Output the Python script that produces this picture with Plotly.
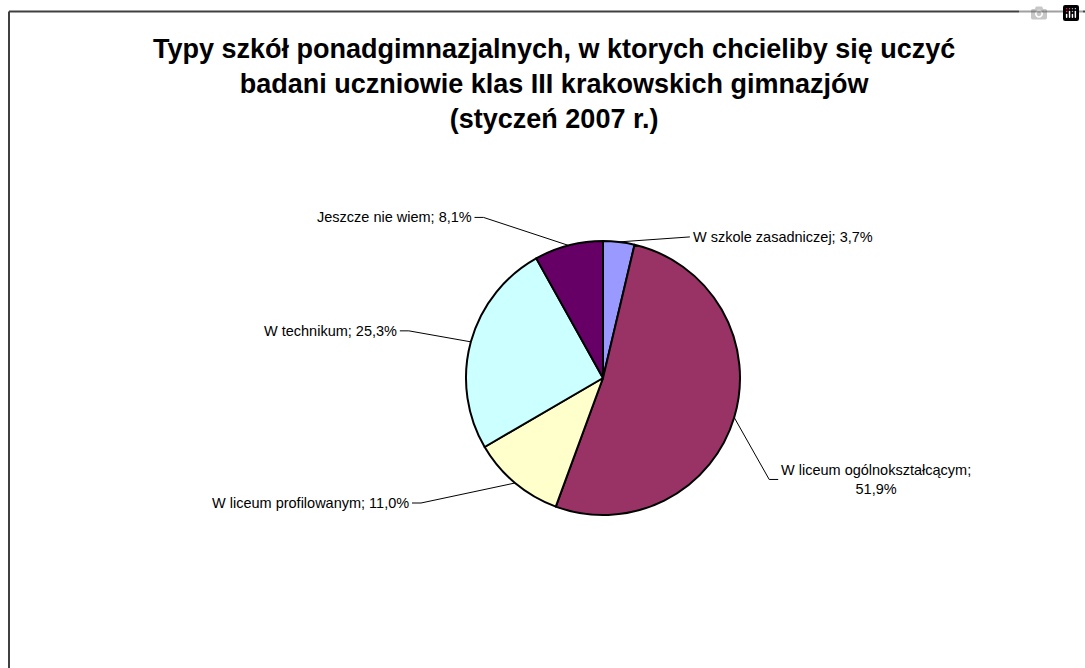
import math
import plotly.graph_objects as go

# Data
labels = ["W szkole zasadniczej", "W liceum ogólnokształcącym", "W liceum profilowanym",
          "W technikum", "Jeszcze nie wiem"]
values = [3.7, 51.9, 11.0, 25.3, 8.1]
colors = ["#9999FF", "#993366", "#FFFFCC", "#CCFFFF", "#660066"]

title_text = ("<b>Typy szkół ponadgimnazjalnych, w ktorych chcieliby się uczyć<br>"
              "badani uczniowie klas III krakowskich gimnazjów<br>(styczeń 2007 r.)</b>")

W, H = 1085, 668
cx, cy, R = 603, 378, 137  # pie centre / radius in pixels
FONT = "Liberation Sans, Arial, sans-serif"

# where each label sits relative to its slice edge (pixels) and which side
label_style = [
    dict(dx=71, dy=-5, side=1),
    dict(dx=44, dy=62, side=1),
    dict(dx=-103, dy=20, side=-1),
    dict(dx=-71, dy=-11, side=-1),
    dict(dx=-94, dy=-28, side=-1),
]

fig = go.Figure()

fig.add_trace(go.Pie(
    labels=labels,
    values=values,
    sort=False,
    direction="clockwise",
    rotation=0,
    marker=dict(colors=colors, line=dict(color="black", width=2)),
    textinfo="none",
    hoverinfo="label+percent",
    domain=dict(x=[(cx - R) / W, (cx + R) / W], y=[1 - (cy + R) / H, 1 - (cy - R) / H]),
    showlegend=False,
))

total = sum(values)
cum = 0
lx, ly = [], []
annotations = []
for lab, v, st in zip(labels, values, label_style):
    mid = (cum + v / 2) / total * 2 * math.pi
    cum += v
    hx = cx + R * math.sin(mid)
    hy = cy - R * math.cos(mid)
    tx, ty = hx + st["dx"], hy + st["dy"]
    lx += [hx, tx - st["side"] * 9, tx, None]
    ly += [hy, ty, ty, None]
    txt = f"{lab}; {v:.1f}%".replace(".", ",")
    if lab == "W liceum ogólnokształcącym":
        txt = f"{lab};<br>{v:.1f}%".replace(".", ",")
    annotations.append(dict(
        x=tx, y=ty, xref="x", yref="y", text=txt, showarrow=False,
        xanchor="left" if st["side"] > 0 else "right", yanchor="middle",
        xshift=st["side"] * 1, align="center",
        font=dict(family=FONT, size=14.5, color="black"),
    ))

# leader lines
fig.add_trace(go.Scatter(x=lx, y=ly, mode="lines", line=dict(color="black", width=1),
                         hoverinfo="skip", showlegend=False))

annotations.append(dict(
    x=554, y=84, xref="x", yref="y", showarrow=False,
    xanchor="center", yanchor="middle", align="center",
    text=title_text,
    font=dict(family=FONT, size=27, color="black"),
))

# chart-area border: only left and top edges fall inside the window
border = dict(color="#404040", width=2)
fig.update_layout(
    width=W, height=H,
    margin=dict(l=0, r=0, t=0, b=0),
    paper_bgcolor="white",
    plot_bgcolor="rgba(0,0,0,0)",
    xaxis=dict(range=[0, W], visible=False, fixedrange=True),
    yaxis=dict(range=[H, 0], visible=False, fixedrange=True),
    annotations=annotations,
    shapes=[
        dict(type="line", xref="x", yref="y", x0=9, x1=9, y0=11.5, y1=H, line=border),
        dict(type="line", xref="x", yref="y", x0=9, x1=W, y0=11.5, y1=11.5, line=border),
    ],
)

# drop the default page margin so the figure fills the window exactly
fig.write_html("out.html",
               post_script="document.body.style.margin='0';document.body.style.overflow='hidden';")
